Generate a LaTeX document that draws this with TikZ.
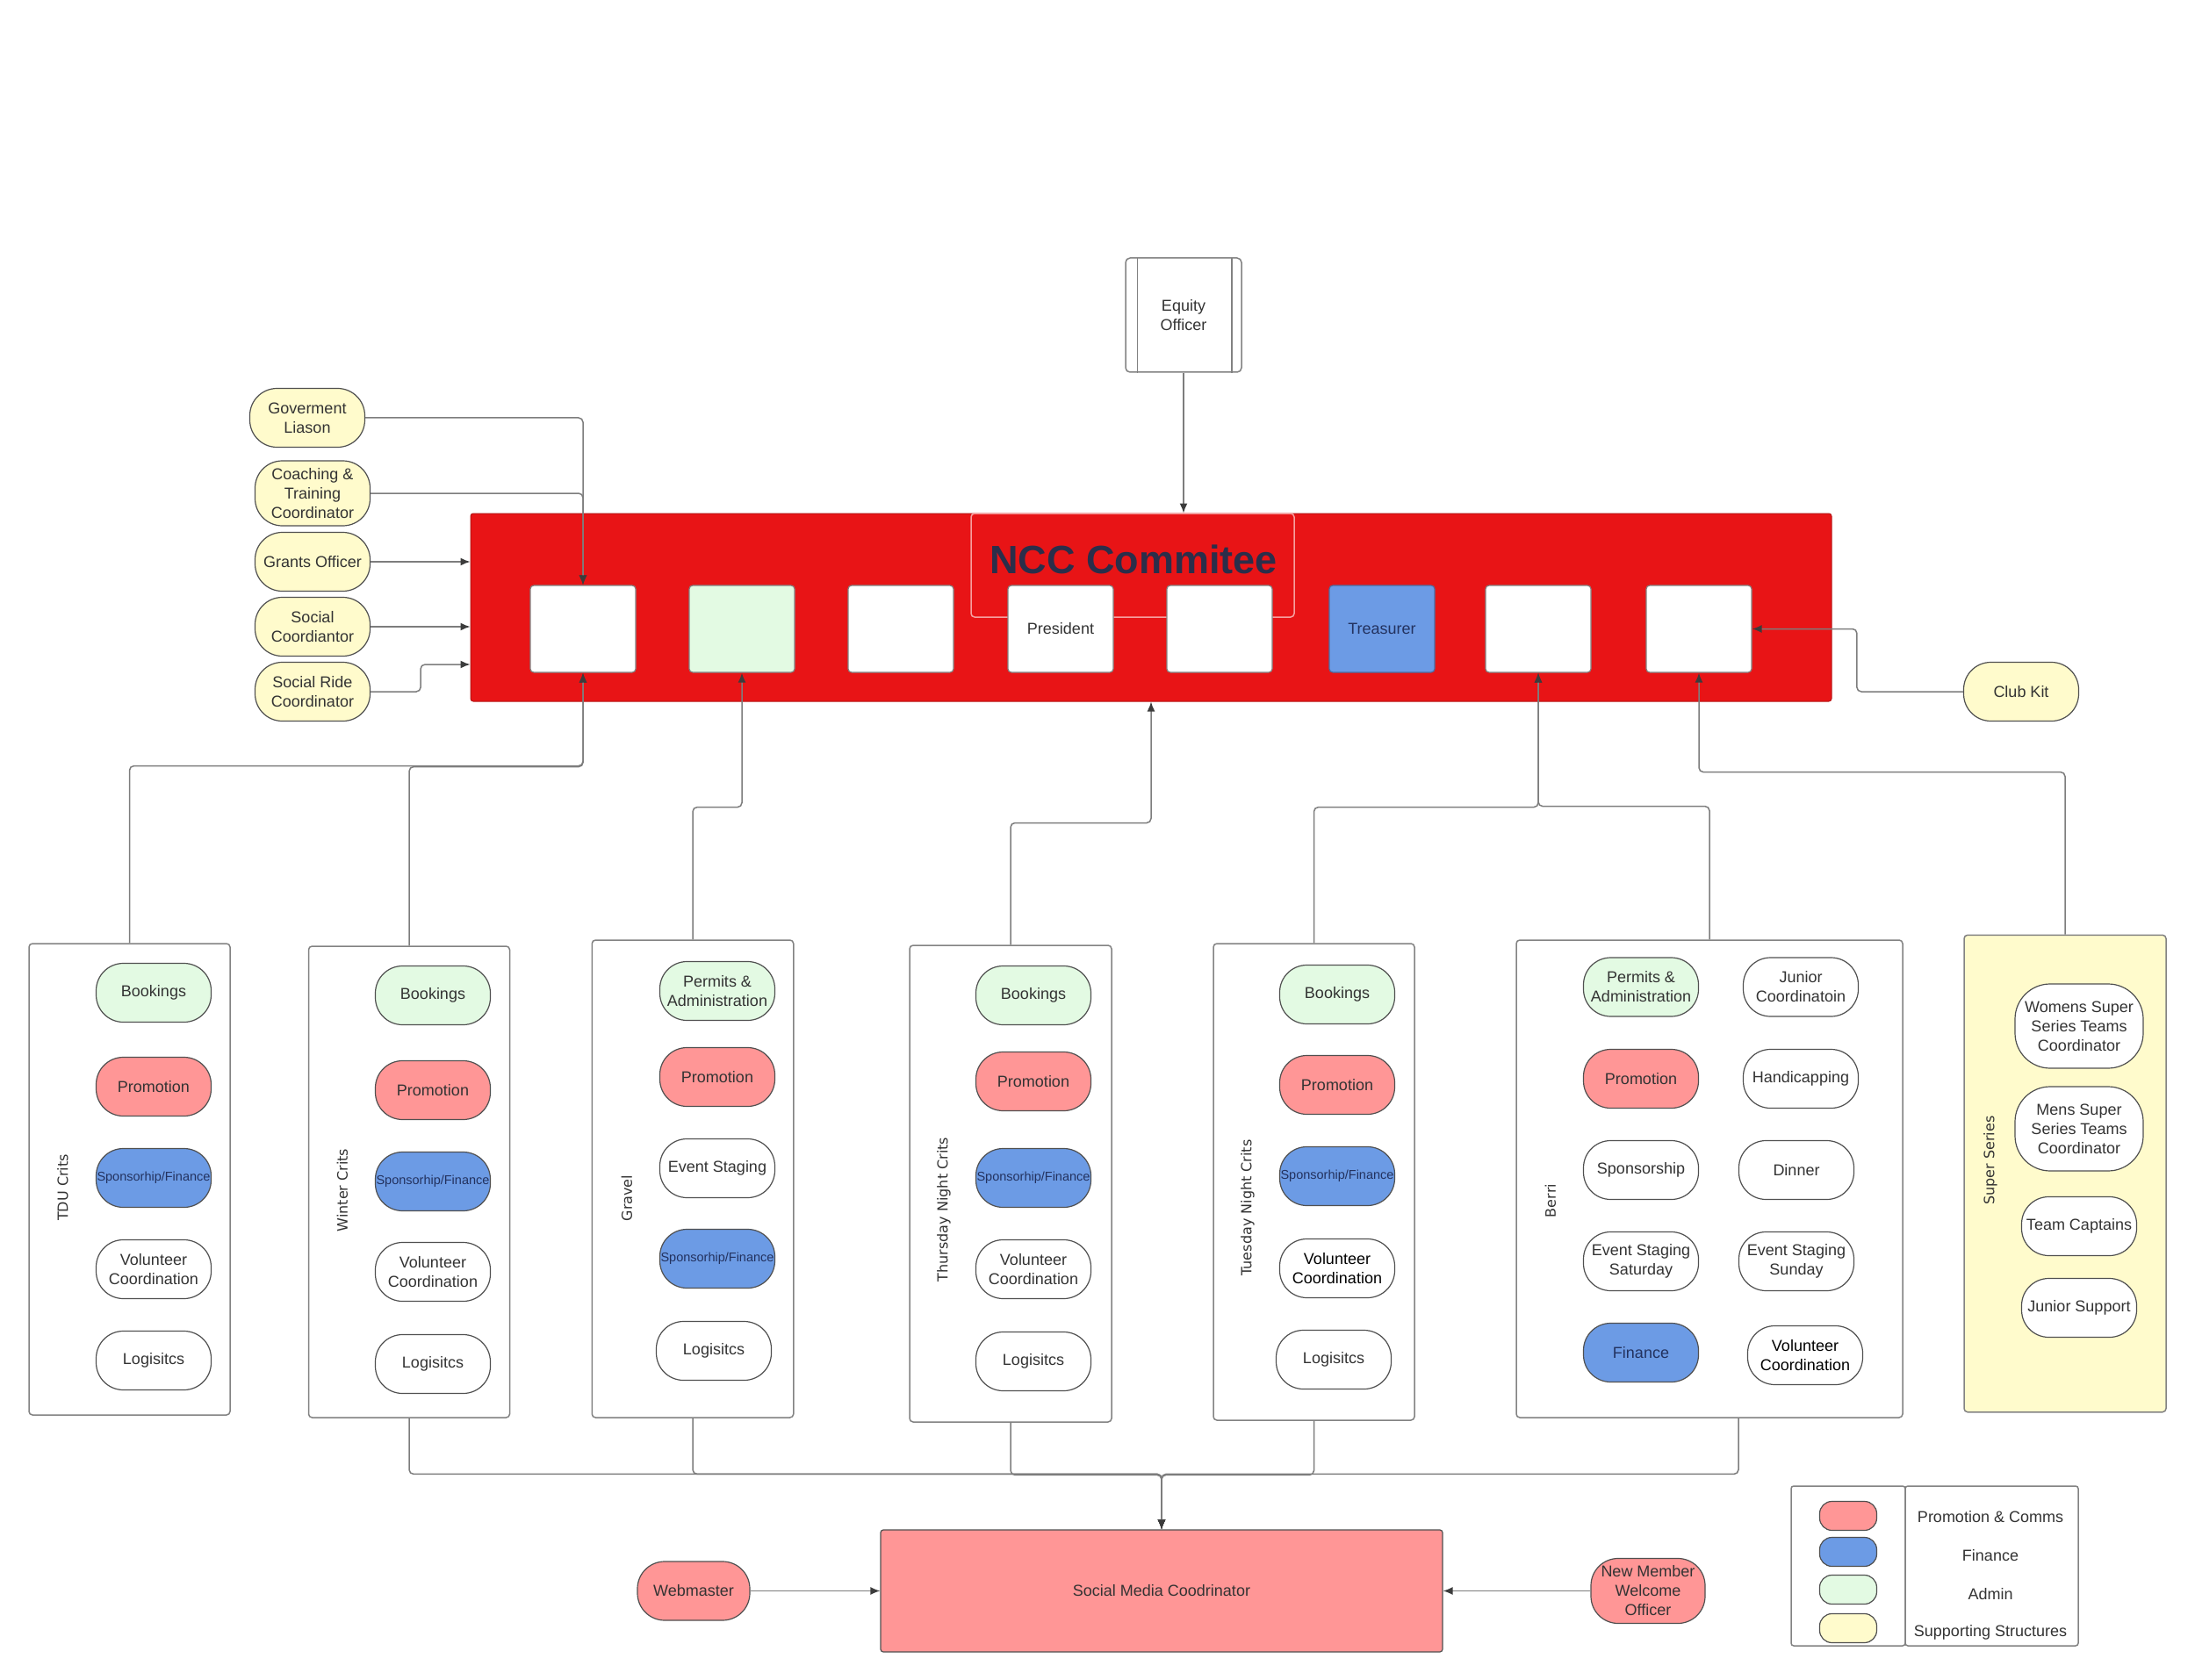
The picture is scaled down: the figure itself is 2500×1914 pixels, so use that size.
\documentclass[tikz,border=0pt]{standalone}
\usepackage{fontspec}
\setmainfont{Liberation Sans}
\newfontfamily\dejavu{DejaVu Sans}
\usetikzlibrary{arrows.meta,calc}
\newdimen\px \px=0.3pt
\newcommand\fsz{\fontsize{5.4}{6.6}\selectfont}
\newcommand\spfont{\fontsize{4.35}{5}\selectfont}
\newcommand\lblfont{\dejavu\fontsize{4.8}{5.8}\selectfont}
\newcommand\nccfont{\bfseries\fontsize{13.5}{16}\selectfont}
\definecolor{redc}{RGB}{232,20,22}
\definecolor{redline}{RGB}{180,20,20}
\definecolor{nccout}{RGB}{246,160,160}
\definecolor{pinkc}{RGB}{255,150,150}
\definecolor{bluec}{RGB}{108,155,229}
\definecolor{greenc}{RGB}{227,250,227}
\definecolor{yellowc}{RGB}{255,251,204}
\definecolor{txt}{RGB}{51,51,51}
\definecolor{navytxt}{RGB}{35,50,95}
\definecolor{nccblue}{RGB}{43,46,74}
\definecolor{pillborder}{RGB}{80,80,80}
\definecolor{boxgray}{RGB}{130,130,130}
\definecolor{linegray}{RGB}{125,125,125}
\definecolor{arrowc}{RGB}{60,60,60}
\begin{document}
\begin{tikzpicture}[x=0.3pt,y=-0.3pt,
  pill/.style={draw=pillborder, line width=1.2*\px, rounded corners=31*\px,
    minimum width=131*\px, minimum height=67*\px, inner sep=0pt,
    align=center, font=\fsz, text=txt, fill=white},
  pk/.style={fill=pinkc},
  bl/.style={fill=bluec, text=navytxt},
  gr/.style={fill=greenc},
  yl/.style={fill=yellowc},
  sp/.style={pill, bl, font=\spfont},
  colbox/.style={draw=boxgray, line width=1.5*\px, rounded corners=4*\px,
    fill=white, inner sep=0pt},
  topbox/.style={draw=boxgray, line width=1.2*\px, rounded corners=4*\px,
    fill=white, minimum width=120*\px, minimum height=99*\px, inner sep=0pt,
    font=\fsz, text=txt},
  collabel/.style={font=\lblfont, rotate=90, text=txt, inner sep=0pt},
  conn/.style={draw=linegray, line width=1.5*\px, rounded corners=5*\px},
  arr/.style={conn, -{Latex[length=3.3pt,width=2.7pt,color=arrowc]}},
  legtxt/.style={font=\fsz, text=txt, inner sep=0pt}
]
\useasboundingbox (0,0) rectangle (2500,1914);

% ---------- NCC committee header ----------
\node[draw=redline, line width=1*\px, fill=redc, rounded corners=3*\px,
  minimum width=1550*\px, minimum height=214*\px, inner sep=0pt] (ncc) at (1311,692) {};
\node[draw=nccout, line width=1.5*\px, rounded corners=4*\px,
  minimum width=368*\px, minimum height=118*\px, inner sep=0pt] (nccframe) at (1290,644) {};
\node[font=\nccfont, text=nccblue, inner sep=0pt] (ncctext) at (1291,637) {NCC Commitee};
\node[topbox] (b1) at (664,716.5) {};
\node[topbox, fill=greenc] (b2) at (845,716.5) {};
\node[topbox] (b3) at (1026,716.5) {};
\node[topbox] (b4) at (1208,716.5) {President};
\node[topbox] (b5) at (1389,716.5) {};
\node[topbox, fill=bluec, draw=bluec!70!black, text=navytxt] (b6) at (1574,716.5) {Treasurer};
\node[topbox] (b7) at (1752,716.5) {};
\node[topbox] (b8) at (1935,716.5) {};

% ---------- Equity officer ----------
\node[draw=boxgray, line width=1.5*\px, fill=white, rounded corners=5*\px,
  minimum width=132*\px, minimum height=130*\px, inner sep=0pt, align=center,
  font=\fsz, text=txt] (equity) at (1348,359) {Equity\\Officer};
\draw[boxgray, line width=1.5*\px] ($(equity.north west)+(14,0)$) -- ($(equity.south west)+(14,0)$);
\draw[boxgray, line width=1.5*\px] ($(equity.north east)+(-12,0)$) -- ($(equity.south east)+(-12,0)$);

% ---------- supporting roles ----------
\node[pill,yl] (gov) at (350,476) {Goverment\\Liason};
\node[pill,yl,minimum height=74*\px] (coach) at (356,562) {Coaching \&\\Training\\Coordinator};
\node[pill,yl] (grants) at (356,640) {Grants Officer};
\node[pill,yl] (social) at (356,714) {Social\\Coordiantor};
\node[pill,yl] (sride) at (356,788) {Social Ride\\Coordinator};
\node[pill,yl] (clubkit) at (2302,788) {Club Kit};

% ---------- columns ----------
\node[colbox, minimum width=229*\px, minimum height=537*\px] (tdu) at (147.5,1343.5) {};
\node[collabel] (ltdu) at (71.5,1353) {TDU Crits};
\node[pill,gr] (tdu1) at (175,1131) {Bookings};
\node[pill,pk] (tdu2) at (175,1238) {Promotion};
\node[sp] (tdu3) at (175,1342) {Sponsorhip/Finance};
\node[pill] (tdu4) at (175,1446) {Volunteer\\Coordination};
\node[pill] (tdu5) at (175,1550) {Logisitcs};

\node[colbox, minimum width=229*\px, minimum height=537*\px] (winter) at (466,1346.5) {};
\node[collabel] (lwinter) at (390,1356) {Winter Crits};
\node[pill,gr] (win1) at (493,1134) {Bookings};
\node[pill,pk] (win2) at (493,1242) {Promotion};
\node[sp] (win3) at (493,1346) {Sponsorhip/Finance};
\node[pill] (win4) at (493,1449) {Volunteer\\Coordination};
\node[pill] (win5) at (493,1554) {Logisitcs};

\node[colbox, minimum width=229.5*\px, minimum height=544*\px] (gravel) at (789,1343) {};
\node[collabel] (lgravel) at (714,1365) {Gravel};
\node[pill,gr] (gra1) at (817,1129) {Permits \&\\Administration};
\node[pill,pk] (gra2) at (817,1227) {Promotion};
\node[pill] (gra3) at (817,1331) {Event Staging};
\node[sp] (gra4) at (817,1434) {Sponsorhip/Finance};
\node[pill] (gra5) at (813,1539) {Logisitcs};

\node[colbox, minimum width=230*\px, minimum height=543*\px] (thu) at (1151,1348.5) {};
\node[collabel] (lthu) at (1075,1378) {Thursday Night Crits};
\node[pill,gr] (thu1) at (1177,1134) {Bookings};
\node[pill,pk] (thu2) at (1177,1232) {Promotion};
\node[sp] (thu3) at (1177,1342) {Sponsorhip/Finance};
\node[pill] (thu4) at (1177,1446) {Volunteer\\Coordination};
\node[pill] (thu5) at (1177,1551) {Logisitcs};

\node[colbox, minimum width=229*\px, minimum height=543*\px] (tue) at (1496.5,1346.5) {};
\node[collabel] (ltue) at (1421,1376) {Tuesday Night Crits};
\node[pill,gr] (tue1) at (1523,1133) {Bookings};
\node[pill,pk] (tue2) at (1523,1236) {Promotion};
\node[sp] (tue3) at (1523,1340) {Sponsorhip/Finance};
\node[pill,text=black] (tue4) at (1523,1445) {Volunteer\\Coordination};
\node[pill] (tue5) at (1519,1549) {Logisitcs};

\node[colbox, minimum width=440*\px, minimum height=544*\px] (berri) at (1947,1343) {};
\node[collabel] (lberri) at (1766,1368) {Berri};
\node[pill,gr] (ber1) at (1869,1124.5) {Permits \&\\Administration};
\node[pill,pk] (ber2) at (1869,1229) {Promotion};
\node[pill] (ber3) at (1869,1333) {Sponsorship};
\node[pill] (ber4) at (1869,1437) {Event Staging\\Saturday};
\node[pill,bl] (ber5) at (1869,1541) {Finance};
\node[pill] (ber6) at (2051,1124.5) {Junior\\Coordinatoin};
\node[pill] (ber7) at (2051,1229) {Handicapping};
\node[pill] (ber8) at (2046,1333) {Dinner};
\node[pill] (ber9) at (2046,1437) {Event Staging\\Sunday};
\node[pill,text=black] (ber10) at (2056,1544) {Volunteer\\Coordination};

\node[colbox, fill=yellowc, minimum width=230*\px, minimum height=543.5*\px] (super) at (2352,1337) {};
\node[collabel] (lsuper) at (2267,1322) {Super Series};
\node[pill,minimum width=146*\px,minimum height=96*\px,rounded corners=40*\px] (sup1) at (2368,1169) {Womens Super\\Series Teams\\Coordinator};
\node[pill,minimum width=146*\px,minimum height=96*\px,rounded corners=40*\px] (sup2) at (2368,1286) {Mens Super\\Series Teams\\Coordinator};
\node[pill] (sup3) at (2368,1397) {Team Captains};
\node[pill] (sup4) at (2368,1490) {Junior Support};

% ---------- social media ----------
\node[draw=pillborder, line width=1.2*\px, fill=pinkc, rounded corners=3*\px,
  minimum width=640*\px, minimum height=139*\px, inner sep=0pt, font=\fsz, text=txt] (smc) at (1323,1812.5) {Social Media Coodrinator};
\node[pill,pk,minimum width=128*\px] (web) at (790,1812.5) {Webmaster};
\node[pill,pk,minimum width=130*\px,minimum height=74*\px] (nmwo) at (1877,1812.5) {New Member\\Welcome\\Officer};

% ---------- legend ----------
\node[colbox, minimum width=130*\px, minimum height=182*\px, rounded corners=3*\px] (legl) at (2105,1784) {};
\node[colbox, minimum width=197*\px, minimum height=182*\px, rounded corners=3*\px] (legr) at (2268.5,1784) {};
\node[pill,pk,minimum width=65*\px,minimum height=33*\px,rounded corners=14*\px] (lg1) at (2105,1727) {};
\node[pill,bl,minimum width=65*\px,minimum height=33*\px,rounded corners=14*\px] (lg2) at (2105,1768) {};
\node[pill,gr,minimum width=65*\px,minimum height=33*\px,rounded corners=14*\px] (lg3) at (2105,1811) {};
\node[pill,yl,minimum width=65*\px,minimum height=33*\px,rounded corners=14*\px] (lg4) at (2105,1855) {};
\node[legtxt] (lt1) at (2267,1728) {Promotion \& Comms};
\node[legtxt] (lt2) at (2267,1772) {Finance};
\node[legtxt] (lt3) at (2267,1816) {Admin};
\node[legtxt] (lt4) at (2267,1860) {Supporting Structures};

% ---------- connectors into the committee ----------
\draw[arr] (gov.east) -| (b1.north);
\draw[arr] (coach.east) -| (b1.north);
\draw[arr] (grants.east) -- (grants.east -| ncc.west);
\draw[arr] (social.east) -- (social.east -| ncc.west);
\draw[arr] (sride.east) -- ++(57,0) |- ($(ncc.west)+(0,65)$);
\draw[arr] (equity.south) -- (equity.south |- ncc.north);
\draw[arr] (clubkit.west) -- ++(-121,0) |- (b8.east);

\draw[arr] (tdu.north) |- ($(b1.south)+(0,106)$) -- (b1.south);
\draw[arr] (winter.north) |- ($(b1.south)+(0,107)$) -- (b1.south);
\draw[arr] (gravel.north) |- ($(b2.south)+(0,153)$) -- (b2.south);
\draw[arr] (thu.north) |- ($(ncc.south)+(0,138)$) -- (ncc.south);
\draw[arr] (tue.north) |- ($(b7.south)+(0,153)$) -- (b7.south);
\draw[arr] (berri.north) |- ($(b7.south)+(0,152)$) -- (b7.south);
\draw[arr] (super.north) |- ($(b8.south)+(0,113)$) -- (b8.south);

% ---------- connectors into social media ----------
\draw[arr] (winter.south) |- ($(smc.north)+(0,-63)$) -- (smc.north);
\draw[arr] (gravel.south) |- ($(smc.north)+(0,-63)$) -- (smc.north);
\draw[arr] (thu.south) |- ($(smc.north)+(0,-62)$) -- (smc.north);
\draw[arr] (tue.south) |- ($(smc.north)+(0,-62)$) -- (smc.north);
\draw[arr] ($(berri.south)+(33,0)$) |- ($(smc.north)+(0,-63)$) -- (smc.north);
\draw[arr] (web.east) -- (web.east -| smc.west);
\draw[arr] (nmwo.west) -- (nmwo.west -| smc.east);
\end{tikzpicture}
\end{document}
